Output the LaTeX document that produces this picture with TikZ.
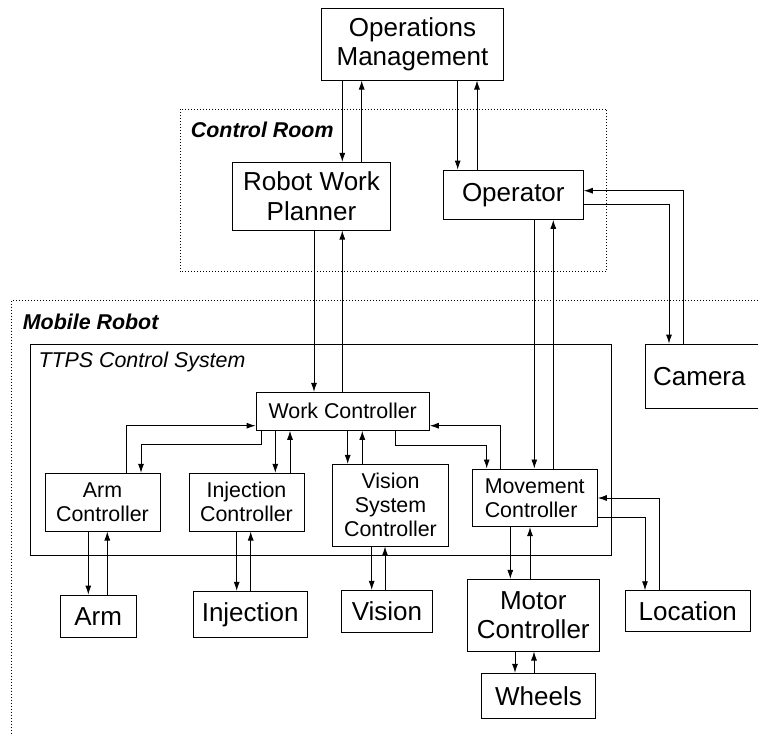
\documentclass[tikz,border=0pt]{standalone}
\usepackage{fontspec}
\setmainfont{Liberation Sans}
\usetikzlibrary{arrows.meta}
\begin{document}
\begin{tikzpicture}[x=1pt,y=-1pt,
  lg/.style={font=\fontsize{26}{29.5}\selectfont},
  md/.style={font=\fontsize{21.4}{24}\selectfont},
  box/.style={draw, line width=0.9pt, inner sep=0pt, align=center},
  arr/.style={line width=0.9pt, -{Latex[length=9pt,width=6pt]}},
  dotbox/.style={line width=0.9pt, dash pattern=on 0.9pt off 2.1pt},
  lbl/.style={md, anchor=base west, inner sep=0pt}
]
\useasboundingbox (0,0) rectangle (758,736);
\clip (0,0) rectangle (758,736);

% containers
\draw[dotbox] (180,109) rectangle (606.7,271.7);
\draw[dotbox] (11,300.7) rectangle (800,800);
\draw[line width=0.9pt] (30.7,344.3) rectangle (611.2,555.7);
\node[lbl] (lcr) at (190.7,137.3) {\bfseries\itshape Control Room};
\node[lbl] (lmr) at (22.7,329) {\bfseries\itshape Mobile Robot};
\node[lbl] (ltt) at (38.3,367.3) {\itshape TTPS Control System};

% boxes
\node[box,lg,minimum width=181.6pt,minimum height=71.7pt] (ops) at (412.5,44.2) {Operations\\Management};
\node[box,lg,minimum width=158.4pt,minimum height=67.7pt] (rwp) at (311.5,196.2) {Robot Work\\Planner};
\node[box,lg,minimum width=140pt,minimum height=49.3pt] (oper) at (513.3,194.7) {Operator};
\node[box,lg,minimum height=64.3pt,text width=120pt,align=left,inner xsep=7.7pt,anchor=west] (cam) at (645,376.2) {Camera};
\node[box,md,minimum width=173.3pt,minimum height=38pt] (wc) at (342.7,411.3) {Work Controller};
\node[box,md,minimum width=115pt,minimum height=57.7pt] (armc) at (102.5,502.2) {Arm\\Controller};
\node[box,md,minimum width=115pt,minimum height=57.7pt] (injc) at (246.5,502.2) {Injection\\Controller};
\node[box,md,minimum width=115.6pt,minimum height=81.7pt] (visc) at (390.5,505.2) {Vision\\System\\Controller};
\node[box,md,minimum width=125.3pt,minimum height=57.7pt,align=left] (movc) at (534.7,497.8) {Movement\\Controller};
\node[box,lg,minimum width=76.3pt,minimum height=42.3pt] (arm) at (98.2,616.2) {Arm};
\node[box,lg,minimum width=113.7pt,minimum height=46pt] (inj) at (250.2,614.3) {Injection};
\node[box,lg,minimum width=90.6pt,minimum height=41.7pt] (vis) at (387,611.2) {Vision};
\node[box,lg,minimum width=132pt,minimum height=71.7pt] (motc) at (533.3,615.2) {Motor\\Controller};
\node[box,lg,minimum width=113.6pt,minimum height=45pt] (whl) at (538.5,695.8) {Wheels};
\node[box,lg,minimum width=125pt,minimum height=41pt] (loc) at (687.8,611.2) {Location};

% connectors
\draw[arr] (342.3,0 |- ops.south) -- (342.3,0 |- rwp.north);
\draw[arr] (361.7,0 |- rwp.north) -- (361.7,0 |- ops.south);
\draw[arr] (457.7,0 |- ops.south) -- (457.7,0 |- oper.north);
\draw[arr] (477,0 |- oper.north) -- (477,0 |- ops.south);
\draw[arr] (314,0 |- rwp.south) -- (314,0 |- wc.north);
\draw[arr] (342.3,0 |- wc.north) -- (342.3,0 |- rwp.south);
\draw[arr] (534.3,0 |- oper.south) -- (534.3,0 |- movc.north);
\draw[arr] (553.3,0 |- movc.north) -- (553.3,0 |- oper.south);
\draw[arr] (683.3,0 |- cam.north) |- (oper.east |- 0,190.7);
\draw[arr] (oper.east |- 0,204.3) -| (669,0 |- cam.north);
\draw[arr] (126,0 |- armc.north) |- (wc.west |- 0,425.7);
\draw[arr] (261,0 |- wc.south) -- (261,444.3) -| (141,0 |- armc.north);
\draw[arr] (275.3,0 |- wc.south) -- (275.3,0 |- injc.north);
\draw[arr] (290,0 |- injc.north) -- (290,0 |- wc.south);
\draw[arr] (347.7,0 |- wc.south) -- (347.7,0 |- visc.north);
\draw[arr] (362.3,0 |- visc.north) -- (362.3,0 |- wc.south);
\draw[arr] (500.7,0 |- movc.north) |- (wc.east |- 0,425.7);
\draw[arr] (395.7,0 |- wc.south) -- (395.7,445) -| (486.7,0 |- movc.north);
\draw[arr] (88.3,0 |- armc.south) -- (88.3,0 |- arm.north);
\draw[arr] (107.3,0 |- arm.north) -- (107.3,0 |- armc.south);
\draw[arr] (236.7,0 |- injc.south) -- (236.7,0 |- inj.north);
\draw[arr] (250.7,0 |- inj.north) -- (250.7,0 |- injc.south);
\draw[arr] (371.7,0 |- visc.south) -- (371.7,0 |- vis.north);
\draw[arr] (385,0 |- vis.north) -- (385,0 |- visc.south);
\draw[arr] (510.3,0 |- movc.south) -- (510.3,0 |- motc.north);
\draw[arr] (530,0 |- motc.north) -- (530,0 |- movc.south);
\draw[arr] (515,0 |- motc.south) -- (515,0 |- whl.north);
\draw[arr] (534,0 |- whl.north) -- (534,0 |- motc.south);
\draw[arr] (659,0 |- loc.north) |- (movc.east |- 0,498);
\draw[arr] (movc.east |- 0,517.3) -| (645,0 |- loc.north);
\end{tikzpicture}
\end{document}
